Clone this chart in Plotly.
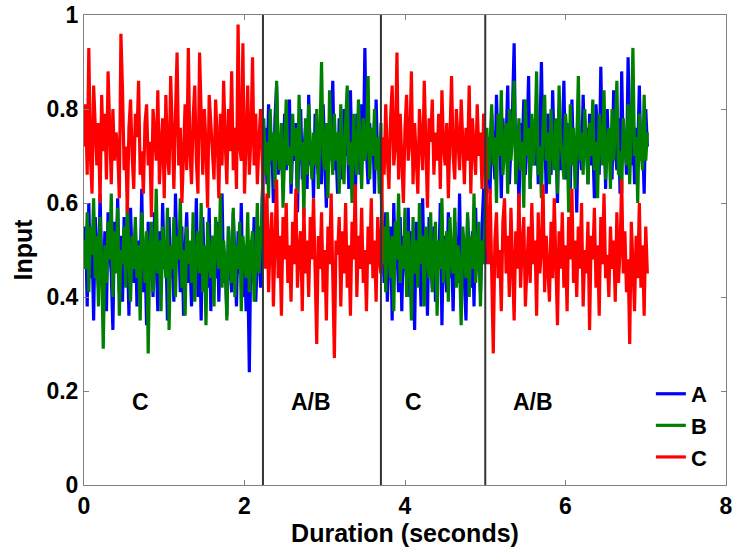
import numpy as np
import plotly.graph_objects as go

# Sampling interval of the recorded inputs (seconds)
DT = 0.02

# Phase 1: stimulus C (0 - 2.23 s)
a_phase1 = [
    .47, .55, .38, .60, .44, .52, .35, .57, .49, .42, .62, .46, .40, .54, .37, .58,
    .50, .45, .33, .56, .48, .61, .41, .53, .39, .57, .44, .51, .36, .59, .47, .43,
    .55, .38, .52, .46, .63, .41, .49, .34, .56, .45, .53, .40, .58, .48, .37, .54,
    .42, .60, .46, .51, .35, .57, .44, .49, .39, .62, .47, .53, .41, .55, .36, .50,
    .58, .43, .48, .38, .54, .46, .61, .40, .52, .35, .57, .45, .50, .42, .59, .37,
    .53, .47, .44, .56, .39, .51, .62, .43, .48, .36, .55, .46, .41, .58, .49, .38,
    .54, .45, .60, .40, .50, .37, .47, .24, .52, .43, .57, .39, .48, .55, .42, .61,
]
b_phase1 = [
    .52, .46, .58, .41, .55, .49, .61, .44, .53, .38, .57, .47, .29, .51, .43, .56,
    .48, .62, .40, .54, .45, .59, .36, .50, .47, .55, .42, .60, .49, .39, .53, .46,
    .57, .44, .51, .35, .58, .48, .43, .54, .28, .50, .56, .41, .47, .63, .45, .52,
    .37, .55, .49, .44, .59, .33, .51, .46, .57, .40, .53, .48, .61, .42, .50, .36,
    .55, .47, .52, .43, .58, .39, .49, .54, .45, .60, .41, .51, .34, .56, .48, .44,
    .53, .38, .57, .50, .46, .62, .42, .52, .47, .35, .55, .49, .43, .59, .40, .51,
    .46, .56, .37, .53, .48, .44, .58, .41, .50, .54, .39, .47, .60, .45, .52, .57,
]
c_phase1 = [
    .72, .81, .66, .93, .70, .62, .85, .74, .68, .77, .60, .83, .71, .79, .65, .88,
    .73, .64, .80, .69, .75, .71, .61, .96, .84, .67, .72, .58, .76, .82, .70, .63,
    .79, .74, .86, .66, .71, .62, .77, .81, .68, .73, .57, .80, .75, .69, .84, .64,
    .72, .78, .61, .83, .70, .66, .87, .74, .63, .79, .92, .68, .76, .60, .73, .81,
    .67, .93, .71, .64, .78, .85, .69, .62, .92, .75, .66, .80, .72, .59, .83, .77,
    .70, .65, .82, .74, .61, .79, .68, .86, .73, .64, .80, .71, .88, .67, .76, .63,
    .98, .72, .69, .94, .62, .77, .85, .66, .74, .91, .68, .79, .64, .73, .80, .70,
]

# Phase 2: stimulus A/B (2.24 - 3.70 s)
a_phase2 = [
    .70, .76, .64, .81, .68, .73, .60, .78, .85, .66, .74, .71, .63, .79, .67, .75,
    .82, .62, .72, .69, .77, .58, .74, .80, .65, .71, .76, .63, .83, .68, .73, .61,
    .79, .70, .66, .75, .64, .81, .72, .59, .77, .69, .74, .86, .67, .71, .62, .78,
    .73, .65, .80, .70, .76, .63, .84, .68, .72, .60, .79, .74, .66, .81, .69, .93,
    .71, .64, .77, .70, .75, .62, .82, .68, .73, .66,
]
b_phase2 = [
    .78, .66, .73, .61, .80, .69, .75, .63, .86, .71, .67, .77, .59, .74, .82, .68,
    .72, .64, .79, .70, .76, .62, .83, .69, .73, .57, .78, .66, .81, .71, .65, .75,
    .68, .80, .63, .74, .90, .70, .67, .77, .61, .84, .72, .66, .79, .69, .75, .62,
    .81, .71, .64, .77, .85, .68, .73, .60, .79, .70, .66, .82, .74, .63, .78, .69,
    .72, .87, .65, .76, .70, .80, .67, .74, .62, .77,
]
c_phase2 = [
    .55, .46, .62, .41, .52, .58, .38, .49, .65, .44, .53, .36, .57, .48, .60, .43,
    .51, .39, .56, .47, .63, .42, .50, .54, .37, .59, .45, .52, .40, .57, .48, .61,
    .44, .30, .53, .46, .58, .41, .50, .35, .55, .47, .62, .43, .27, .52, .49, .57,
    .38, .54, .45, .60, .42, .51, .36, .56, .48, .64, .40, .53, .46, .59, .43, .50,
    .37, .55, .47, .61, .44, .52, .39, .57, .48, .45,
]

# Phase 3: stimulus C (3.72 - 5.00 s)
a_phase3 = [
    .52, .43, .58, .39, .49, .55, .35, .60, .46, .51, .41, .57, .37, .53, .48, .44,
    .59, .40, .54, .47, .33, .56, .45, .50, .38, .61, .43, .52, .36, .57, .48, .42,
    .55, .39, .51, .46, .60, .34, .53, .47, .41, .58, .44, .50, .37, .56, .49, .43,
    .62, .40, .52, .45, .35, .57, .48, .42, .54, .38, .59, .46, .51, .41, .55, .63,
    .47,
]
b_phase3 = [
    .47, .55, .41, .58, .50, .44, .53, .37, .56, .48, .62, .43, .51, .46, .59, .40,
    .54, .49, .35, .57, .45, .52, .42, .60, .47, .53, .38, .55, .50, .44, .58, .41,
    .49, .56, .36, .52, .46, .61, .43, .50, .54, .39, .57, .48, .45, .59, .42, .51,
    .47, .34, .55, .50, .44, .58, .40, .53, .46, .62, .43, .49, .56, .38, .52, .47,
    .57,
]
c_phase3 = [
    .74, .66, .81, .70, .63, .78, .85, .68, .72, .92, .65, .79, .71, .60, .76, .83,
    .69, .73, .88, .64, .77, .70, .62, .80, .74, .67, .86, .71, .59, .78, .73, .82,
    .66, .75, .69, .79, .63, .84, .72, .68, .77, .61, .74, .87, .70, .65, .80, .73,
    .67, .82, .71, .64, .76, .69, .85, .62, .78, .72, .66, .81, .70, .75, .63, .79,
    .73,
]

# Phase 4: stimulus A/B (5.02 - 7.02 s)
a_phase4 = [
    .68, .74, .62, .79, .71, .65, .83, .70, .76, .61, .78, .69, .73, .85, .64, .72,
    .80, .94, .67, .75, .59, .77, .70, .82, .66, .73, .87, .63, .78, .71, .68, .81,
    .64, .74, .90, .69, .76, .62, .79, .72, .66, .84, .70, .75, .60, .80, .67, .73,
    .86, .65, .77, .71, .63, .82, .69, .74, .58, .78, .72, .67, .83, .70, .76, .64,
    .79, .68, .73, .61, .81, .75, .66, .89, .71, .77, .63, .80, .69, .74, .65, .84,
    .72, .67, .78, .62, .88, .70, .75, .66, .91, .73, .68, .79, .64, .76, .71, .85,
    .69, .74, .62, .80, .72,
]
b_phase4 = [
    .76, .65, .72, .81, .68, .74, .60, .79, .70, .84, .66, .73, .77, .62, .80, .69,
    .75, .86, .64, .71, .78, .67, .73, .59, .82, .70, .76, .63, .79, .68, .74, .88,
    .66, .72, .61, .77, .83, .69, .75, .64, .80, .71, .67, .78, .62, .85, .73, .70,
    .65, .79, .74, .58, .81, .68, .76, .63, .72, .87, .69, .75, .66, .80, .71, .64,
    .77, .70, .82, .67, .73, .61, .79, .74, .68, .84, .65, .72, .76, .63, .80, .69,
    .75, .86, .66, .71, .62, .78, .73, .68, .81, .64, .77, .93, .70, .74, .60, .79,
    .72, .67, .83, .69, .75,
]
c_phase4 = [
    .55, .47, .63, .41, .28, .52, .58, .44, .50, .37, .56, .61, .45, .53, .40, .59,
    .48, .35, .54, .46, .62, .42, .51, .57, .38, .49, .55, .43, .60, .47, .52, .36,
    .58, .45, .50, .64, .41, .53, .47, .39, .56, .44, .61, .49, .34, .54, .46, .58,
    .42, .51, .37, .57, .48, .63, .43, .52, .40, .55, .46, .60, .38, .50, .45, .56,
    .33, .53, .48, .59, .42, .51, .36, .57, .47, .62, .44, .49, .40, .55, .46, .52,
    .39, .58, .43, .50, .65, .45, .54, .41, .48, .30, .56, .47, .37, .53, .44, .60,
    .42, .51, .36, .55, .45,
]

# Stimulus switch times and phase labels
switch_times = [2.23, 3.70, 5.00]
phase_labels = ["C", "A/B", "C", "A/B"]
phase_label_x = [0.70, 2.83, 4.11, 5.60]

series_names = ["A", "B", "C"]
series_colors = ["#0000FF", "#008000", "#FF0000"]

input_a = a_phase1 + a_phase2 + a_phase3 + a_phase4
input_b = b_phase1 + b_phase2 + b_phase3 + b_phase4
input_c = c_phase1 + c_phase2 + c_phase3 + c_phase4
time_s = np.round(np.arange(len(input_a)) * DT, 2)

FONT = "Liberation Sans, Arial, sans-serif"

fig = go.Figure()
for name, values, color in zip(series_names, [input_a, input_b, input_c], series_colors):
    fig.add_trace(go.Scatter(
        x=time_s, y=values, mode="lines", name=name,
        line=dict(color=color, width=3.2),
    ))

for ts in switch_times:
    fig.add_shape(type="line", xref="x", yref="y", x0=ts, x1=ts, y0=0, y1=1,
                  line=dict(color="#333333", width=2))

for lx, lab in zip(phase_label_x, phase_labels):
    fig.add_annotation(x=lx, y=0.177, xref="x", yref="y", text=lab, showarrow=False,
                       font=dict(family=FONT, size=23, color="black", weight="bold"))

axis_common = dict(
    showline=True, linecolor="#808080", linewidth=1, mirror="ticks",
    ticks="inside", ticklen=5, tickcolor="#808080", showgrid=False, zeroline=False,
    automargin=False,
    tickfont=dict(family=FONT, size=23, color="black", weight="bold"),
)

fig.update_layout(
    width=734, height=550,
    margin=dict(l=84, r=8, t=15, b=65),
    paper_bgcolor="white", plot_bgcolor="white",
    xaxis=dict(range=[0, 8], tickvals=[0, 2, 4, 6, 8], ticktext=["0", "2", "4", "6", "8"],
               title=dict(text="Duration (seconds)", standoff=2,
                          font=dict(family=FONT, size=25, color="black", weight="bold")),
               **axis_common),
    yaxis=dict(range=[0, 1], tickvals=[0, 0.2, 0.4, 0.6, 0.8, 1],
               ticktext=["0", "0.2", "0.4", "0.6", "0.8", "1"],
               title=dict(text="Input", standoff=6,
                          font=dict(family=FONT, size=25, color="black", weight="bold")),
               **axis_common),
    legend=dict(x=0.978, y=0.015, xanchor="right", yanchor="bottom",
                bgcolor="rgba(255,255,255,0)", borderwidth=0,
                font=dict(family=FONT, size=22, color="black", weight="bold"),
                tracegroupgap=9),
    showlegend=True,
)

fig.write_html("out.html")
